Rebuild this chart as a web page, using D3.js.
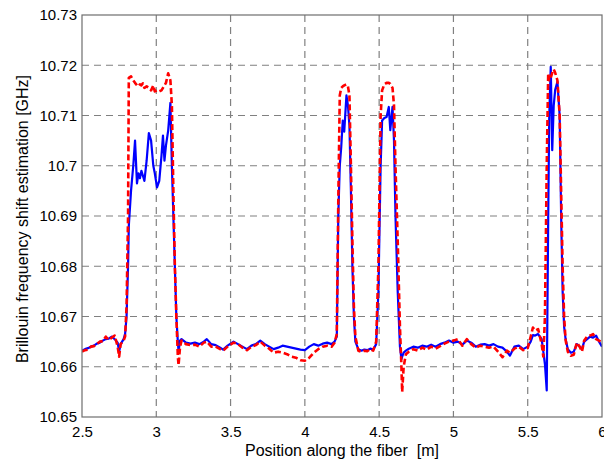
<!DOCTYPE html>
<html>
<head>
<meta charset="utf-8">
<script src="https://cdn.jsdelivr.net/npm/d3@7"></script>
<style>
  body { margin: 0; background: #fff; }
  text { font-family: "Liberation Sans", Arial, sans-serif; fill: #000; }
</style>
</head>
<body>
<script>
// Tamaño del SVG
const width = 604;
const height = 465;

// Datos
const xTicks = [2.5, 3, 3.5, 4, 4.5, 5, 5.5, 6];
const yTicks = [10.65, 10.66, 10.67, 10.68, 10.69, 10.7, 10.71, 10.72, 10.73];

const position = [
  2.50, 2.52, 2.54, 2.56, 2.58, 2.60, 2.62, 2.64, 2.66, 2.68, 2.70, 2.72, 2.74, 2.75, 2.76, 2.78, 2.79,
  2.80, 2.81, 2.815, 2.83, 2.845, 2.857, 2.87, 2.88, 2.89, 2.90, 2.91, 2.92, 2.935, 2.95, 2.965, 2.98,
  2.99, 3.005, 3.02, 3.035, 3.045, 3.055, 3.065, 3.08, 3.095, 3.105, 3.115, 3.125, 3.135, 3.145, 3.15,
  3.16, 3.17, 3.20, 3.23, 3.26, 3.29, 3.32, 3.34, 3.37, 3.40, 3.43, 3.45, 3.48, 3.52, 3.55, 3.58, 3.61,
  3.64, 3.67, 3.70, 3.73, 3.76, 3.79, 3.82, 3.85, 3.88, 3.91, 3.94, 3.97, 4.00, 4.03, 4.06, 4.09, 4.12,
  4.15, 4.18, 4.20, 4.215, 4.225, 4.235, 4.245, 4.255, 4.265, 4.28, 4.29, 4.30, 4.31, 4.32, 4.33, 4.34,
  4.36, 4.38, 4.40, 4.42, 4.44, 4.46, 4.48, 4.495, 4.51, 4.52, 4.535, 4.55, 4.565, 4.575, 4.59, 4.60,
  4.61, 4.625, 4.64, 4.65, 4.655, 4.665, 4.68, 4.70, 4.73, 4.76, 4.79, 4.82, 4.85, 4.88, 4.91, 4.94,
  4.97, 5.00, 5.03, 5.06, 5.09, 5.12, 5.15, 5.18, 5.21, 5.24, 5.27, 5.30, 5.33, 5.36, 5.38, 5.41, 5.44,
  5.47, 5.50, 5.52, 5.535, 5.55, 5.57, 5.594, 5.605, 5.616, 5.628, 5.638, 5.645, 5.655, 5.665, 5.675,
  5.685, 5.70, 5.715, 5.725, 5.735, 5.745, 5.755, 5.77, 5.79, 5.81, 5.83, 5.85, 5.865, 5.88, 5.90, 5.92,
  5.94, 5.96, 5.98, 6.00
];

const blueSeries = [
  10.6632, 10.6635, 10.6637, 10.6640, 10.6642, 10.6646, 10.6648, 10.6652, 10.6655, 10.6656, 10.6660, 10.6655, 10.6648, 10.6630, 10.6645, 10.6655, 10.6665,
  10.6700, 10.6800, 10.6880, 10.6950, 10.7000, 10.7050, 10.6965, 10.6985, 10.6975, 10.6990, 10.6980, 10.6970, 10.7010, 10.7065, 10.7050, 10.7000,
  10.6985, 10.6957, 10.6970, 10.7020, 10.7060, 10.7010, 10.7040, 10.7070, 10.7125, 10.7000, 10.6900, 10.6800, 10.6700, 10.6650, 10.6630,
  10.6652, 10.6655, 10.6648, 10.6646, 10.6648, 10.6645, 10.6650, 10.6655, 10.6645, 10.6643, 10.6638, 10.6634, 10.6642, 10.6650, 10.6645, 10.6640, 10.6635,
  10.6642, 10.6645, 10.6652, 10.6645, 10.6640, 10.6635, 10.6638, 10.6642, 10.6640, 10.6638, 10.6636, 10.6634, 10.6633, 10.6640, 10.6645, 10.6642, 10.6646,
  10.6648, 10.6645, 10.6650, 10.6660, 10.6900, 10.7000, 10.7038, 10.7090, 10.7068, 10.7140, 10.7120, 10.7080, 10.6950, 10.6800, 10.6700, 10.6650,
  10.6635, 10.6632, 10.6634, 10.6633, 10.6636, 10.6634, 10.6645, 10.6750, 10.7000, 10.7090, 10.7095, 10.7097, 10.7117, 10.7071, 10.7117, 10.7050,
  10.6900, 10.6750, 10.6640, 10.6615, 10.6620, 10.6628, 10.6632, 10.6636, 10.6640, 10.6638, 10.6642, 10.6640, 10.6644, 10.6640, 10.6645, 10.6648,
  10.6652, 10.6648, 10.6650, 10.6644, 10.6652, 10.6648, 10.6640, 10.6644, 10.6645, 10.6642, 10.6645, 10.6640, 10.6638, 10.6630, 10.6622, 10.6640, 10.6642,
  10.6635, 10.6640, 10.6650, 10.6663, 10.6662, 10.6665, 10.6655, 10.6630, 10.6605, 10.6553, 10.6900, 10.7100, 10.7197, 10.7031, 10.7120,
  10.7151, 10.7167, 10.7100, 10.6900, 10.6750, 10.6680, 10.6655, 10.6635, 10.6628, 10.6630, 10.6645, 10.6640, 10.6635, 10.6650, 10.6655, 10.6660,
  10.6658, 10.6662, 10.6650, 10.6640
];

const redSeries = [
  10.6630, 10.6633, 10.6634, 10.6640, 10.6641, 10.6645, 10.6650, 10.6651, 10.6660, 10.6653, 10.6658, 10.6662, 10.6640, 10.6620, 10.6645, 10.6652, 10.6660,
  10.6720, 10.6900, 10.7175, 10.7178, 10.7170, 10.7165, 10.7160, 10.7158, 10.7162, 10.7160, 10.7164, 10.7155, 10.7158, 10.7155, 10.7150, 10.7160,
  10.7148, 10.7150, 10.7148, 10.7150, 10.7155, 10.7160, 10.7165, 10.7184, 10.7170, 10.7120, 10.6950, 10.6800, 10.6700, 10.6620, 10.6603,
  10.6640, 10.6652, 10.6645, 10.6643, 10.6644, 10.6640, 10.6648, 10.6650, 10.6640, 10.6640, 10.6635, 10.6632, 10.6640, 10.6648, 10.6645, 10.6638, 10.6633,
  10.6640, 10.6643, 10.6650, 10.6642, 10.6636, 10.6628, 10.6630, 10.6628, 10.6625, 10.6620, 10.6618, 10.6613, 10.6612, 10.6618, 10.6628, 10.6635, 10.6640,
  10.6642, 10.6640, 10.6648, 10.6665, 10.6930, 10.7140, 10.7155, 10.7158, 10.7160, 10.7162, 10.7158, 10.7140, 10.7000, 10.6850, 10.6720, 10.6660,
  10.6632, 10.6630, 10.6632, 10.6631, 10.6635, 10.6632, 10.6650, 10.6800, 10.7100, 10.7150, 10.7162, 10.7165, 10.7165, 10.7163, 10.7155, 10.7120,
  10.7000, 10.6850, 10.6680, 10.6600, 10.6550, 10.6600, 10.6625, 10.6630, 10.6635, 10.6632, 10.6638, 10.6634, 10.6640, 10.6636, 10.6641, 10.6646,
  10.6650, 10.6652, 10.6655, 10.6642, 10.6655, 10.6645, 10.6638, 10.6642, 10.6640, 10.6638, 10.6640, 10.6630, 10.6619, 10.6632, 10.6628, 10.6636, 10.6640,
  10.6633, 10.6637, 10.6660, 10.6678, 10.6672, 10.6675, 10.6645, 10.6620, 10.6700, 10.7000, 10.7184, 10.7170, 10.7175, 10.7185, 10.7192,
  10.7185, 10.7170, 10.7100, 10.6950, 10.6800, 10.6700, 10.6653, 10.6630, 10.6622, 10.6624, 10.6648, 10.6640, 10.6630, 10.6652, 10.6660, 10.6662,
  10.6665, 10.6655, 10.6652, 10.6648
];

// Márgenes del área de trazado
const margin = { top: 15, right: 2, bottom: 48, left: 82 };

const x = d3.scaleLinear()
  .domain([2.5, 6])
  .range([margin.left, width - margin.right]);

const y = d3.scaleLinear()
  .domain([10.65, 10.73])
  .range([height - margin.bottom, margin.top]);

const svg = d3.select("body")
  .append("svg")
  .attr("width", width)
  .attr("height", height);

// Grilla punteada
const grid = svg.append("g");

grid.selectAll(".vgrid")
  .data(xTicks.slice(1, -1))
  .enter()
  .append("line")
  .attr("x1", d => x(d))
  .attr("x2", d => x(d))
  .attr("y1", y(10.73))
  .attr("y2", y(10.65))
  .attr("stroke", "#808080")
  .attr("stroke-width", 1.2)
  .attr("stroke-dasharray", "7,5");

grid.selectAll(".hgrid")
  .data(yTicks.slice(1, -1))
  .enter()
  .append("line")
  .attr("x1", x(2.5))
  .attr("x2", x(6))
  .attr("y1", d => y(d))
  .attr("y2", d => y(d))
  .attr("stroke", "#808080")
  .attr("stroke-width", 1.2)
  .attr("stroke-dasharray", "7,5");

// Curvas
const line = d3.line()
  .x(d => x(d[0]))
  .y(d => y(d[1]));

const bluePts = position.map((p, i) => [p, blueSeries[i]]);
const redPts = position.map((p, i) => [p, redSeries[i]]);

svg.append("clipPath").attr("id", "plotclip")
  .append("rect")
  .attr("x", x(2.5))
  .attr("y", y(10.73))
  .attr("width", x(6) - x(2.5))
  .attr("height", y(10.65) - y(10.73));

const curves = svg.append("g").attr("clip-path", "url(#plotclip)");

curves.append("path")
  .datum(bluePts)
  .attr("fill", "none")
  .attr("stroke", "#0000ff")
  .attr("stroke-width", 2.2)
  .attr("stroke-linejoin", "round")
  .attr("d", line);

curves.append("path")
  .datum(redPts)
  .attr("fill", "none")
  .attr("stroke", "#ff0000")
  .attr("stroke-width", 2.6)
  .attr("stroke-dasharray", "6,3")
  .attr("stroke-linejoin", "round")
  .attr("d", line);

// Ejes
svg.append("g")
  .attr("transform", `translate(0,${y(10.65)})`)
  .call(d3.axisBottom(x).tickValues(xTicks).tickSize(0).tickPadding(9).tickFormat(d3.format("")))
  .call(g => g.select(".domain").remove())
  .selectAll("text")
  .style("font-size", "15px")
  .style("font-family", "Liberation Sans, Arial, sans-serif");

svg.append("g")
  .attr("transform", `translate(${x(2.5)},0)`)
  .call(d3.axisLeft(y).tickValues(yTicks).tickSize(0).tickPadding(5).tickFormat(d3.format("")))
  .call(g => g.select(".domain").remove())
  .selectAll("text")
  .style("font-size", "15px")
  .style("font-family", "Liberation Sans, Arial, sans-serif");

// Marco
svg.append("rect")
  .attr("x", x(2.5))
  .attr("y", y(10.73))
  .attr("width", x(6) - x(2.5))
  .attr("height", y(10.65) - y(10.73))
  .attr("fill", "none")
  .attr("stroke", "#6e6e6e")
  .attr("stroke-width", 1.2);

// Títulos de ejes
svg.append("text")
  .attr("x", (x(2.5) + x(6)) / 2)
  .attr("y", 456)
  .attr("text-anchor", "middle")
  .style("font-size", "16px")
  .style("white-space", "pre")
  .text("Position along the fiber  [m]");

svg.append("text")
  .attr("transform", `translate(28,${(y(10.65) + y(10.73)) / 2 + 3}) rotate(-90)`)
  .attr("text-anchor", "middle")
  .style("font-size", "16px")
  .text("Brillouin frequency shift estimation [GHz]");
</script>
</body>
</html>
